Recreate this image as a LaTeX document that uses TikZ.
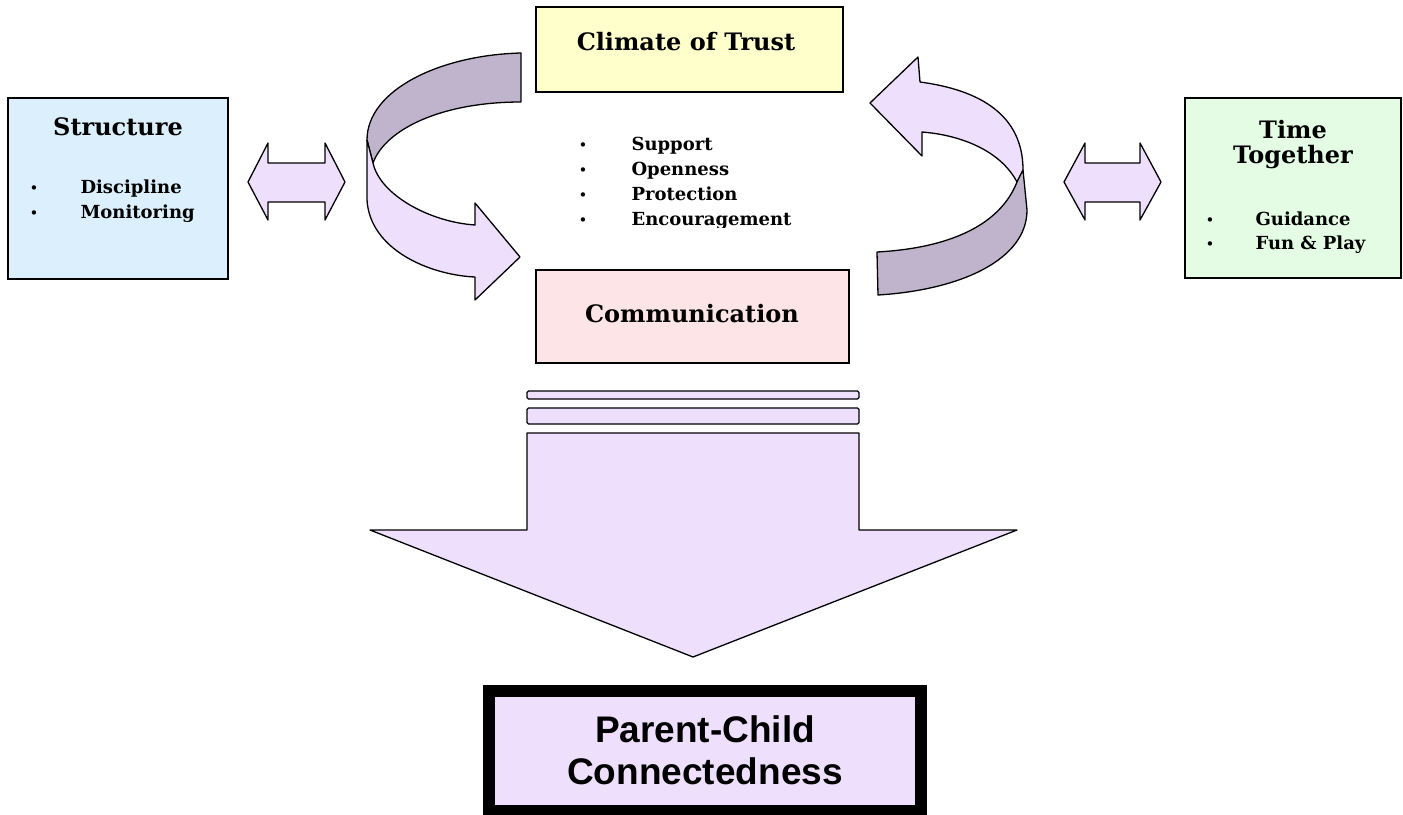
\documentclass[tikz,border=0pt]{standalone}
\usepackage{fontspec}
\setmainfont{DejaVu Serif}
\setsansfont{Liberation Sans}
\definecolor{skyblue}{HTML}{DCEFFC}
\definecolor{paleyellow}{HTML}{FFFFCC}
\definecolor{palepink}{HTML}{FDE4E6}
\definecolor{palegreen}{HTML}{E3FCE3}
\definecolor{lilac}{HTML}{EEE0FC}
\definecolor{darklilac}{HTML}{C0B4CC}
\newcommand\boxtitlefont{\bfseries\fontsize{24}{28}\selectfont}
\newcommand\bulletfont{\bfseries\fontsize{18}{20}\selectfont}

\begin{document}
\begin{tikzpicture}[x=1pt, y=-1pt,
    panel/.style={draw, line width=1.5pt, anchor=north west, inner sep=0pt, outer sep=0pt},
    boxtitle/.style={anchor=base, font=\boxtitlefont},
    listentry/.style={anchor=base west, font=\bulletfont},
    bulletdot/.style={anchor=base, font=\fontsize{15}{15}\selectfont},
    ribbon/.style={draw, line width=1.3pt, line join=round},
  ]

    \useasboundingbox (0,0) rectangle (1403,814);

    %% Boxes

    % Structure
    \node[panel, fill=skyblue, minimum width=220pt, minimum height=181pt] (structure) at (8,98) {};
    \node[boxtitle] (structuretitle) at (118,135) {Structure};
    \node[bulletdot] (sdot1) at (34,193) {•};
    \node[listentry] (discipline) at (77,193) {Discipline};
    \node[bulletdot] (sdot2) at (34,218) {•};
    \node[listentry] (monitoring) at (77,218) {Monitoring};

    % Climate of Trust
    \node[panel, fill=paleyellow, minimum width=307pt, minimum height=85pt] (trust) at (536,7) {};
    \node[boxtitle] (trusttitle) at (686,50) {Climate of Trust};
    \node[bulletdot] (tdot1) at (583,150) {•};
    \node[listentry] (support) at (628,150) {Support};
    \node[bulletdot] (tdot2) at (583,175) {•};
    \node[listentry] (openness) at (628,175) {Openness};
    \node[bulletdot] (tdot3) at (583,200) {•};
    \node[listentry] (protection) at (628,200) {Protection};
    \begin{scope}
        \clip (560,205) rectangle (860,227);
        \node[bulletdot] (tdot4) at (583,225) {•};
        \node[listentry] (encouragement) at (628,225) {Encouragement};
    \end{scope}

    % Communication
    \node[panel, fill=palepink, minimum width=313pt, minimum height=93pt] (communication) at (536,270) {};
    \node[boxtitle] (communicationtitle) at (692,322) {Communication};

    % Time Together
    \node[panel, fill=palegreen, minimum width=216pt, minimum height=180pt] (time) at (1185,98) {};
    \node[boxtitle] (timetitle1) at (1293,138) {Time};
    \node[boxtitle] (timetitle2) at (1293,163) {Together};
    \node[bulletdot] (gdot1) at (1210,225) {•};
    \node[listentry] (guidance) at (1252,225) {Guidance};
    \node[bulletdot] (gdot2) at (1210,249) {•};
    \node[listentry] (funplay) at (1252,249) {Fun \& Play};

    %% Arrows

    % Left and right double arrows
    \draw[ribbon, fill=lilac] (248,182) -- (268,143) -- (268,163) -- (325,163) -- (325,143)
        -- (345,182) -- (325,220) -- (325,202) -- (268,202) -- (268,220) -- cycle;
    \draw[ribbon, fill=lilac] (1064,182) -- (1085,143) -- (1085,163) -- (1140,163) -- (1140,143)
        -- (1161,182) -- (1140,220) -- (1140,202) -- (1085,202) -- (1085,220) -- cycle;

    % Curved arrow, left
    \draw[ribbon, fill=darklilac] (521,53) .. controls (440,55) and (367,90) .. (367,140)
        -- (373,163) .. controls (385,130) and (440,102) .. (521,102) -- cycle;
    \draw[ribbon, fill=lilac] (367,140) -- (367,200) .. controls (370,250) and (430,275) .. (475,277)
        -- (475,300) -- (520,257) -- (475,203) -- (475,225)
        .. controls (430,222) and (380,195) .. (373,163) -- cycle;

    % Curved arrow, right
    \draw[ribbon, fill=lilac] (920,82) .. controls (980,90) and (1023,115) .. (1023,170)
        -- (1017,182) .. controls (1000,150) and (960,135) .. (922,132)
        -- (922,156) -- (870,103) -- (918,57) -- cycle;
    \draw[ribbon, fill=darklilac] (1023,170) -- (1027,210) .. controls (1027,260) and (960,290) .. (878,295)
        -- (877,252) .. controls (950,248) and (1000,225) .. (1017,182) -- cycle;

    % Big arrow down
    \draw[ribbon, fill=lilac, rounded corners=1.5pt] (527,391) rectangle (859,399);
    \draw[ribbon, fill=lilac, rounded corners=1.5pt] (527,408) rectangle (859,424);
    \draw[ribbon, fill=lilac] (527,433) -- (859,433) -- (859,530) -- (1017,530)
        -- (693,657) -- (370,530) -- (527,530) -- cycle;

    %% Parent-Child Connectedness
    \node[draw, line width=12pt, fill=lilac, anchor=north west, inner sep=0pt, outer sep=0pt,
        minimum width=432pt, minimum height=120pt] (connectedness) at (489,691) {};
    \node[anchor=base, font=\sffamily\bfseries\fontsize{37}{40}\selectfont] (pc1) at (705,742) {Parent-Child};
    \node[anchor=base, font=\sffamily\bfseries\fontsize{37}{40}\selectfont] (pc2) at (705,784) {Connectedness};

\end{tikzpicture}
\end{document}
